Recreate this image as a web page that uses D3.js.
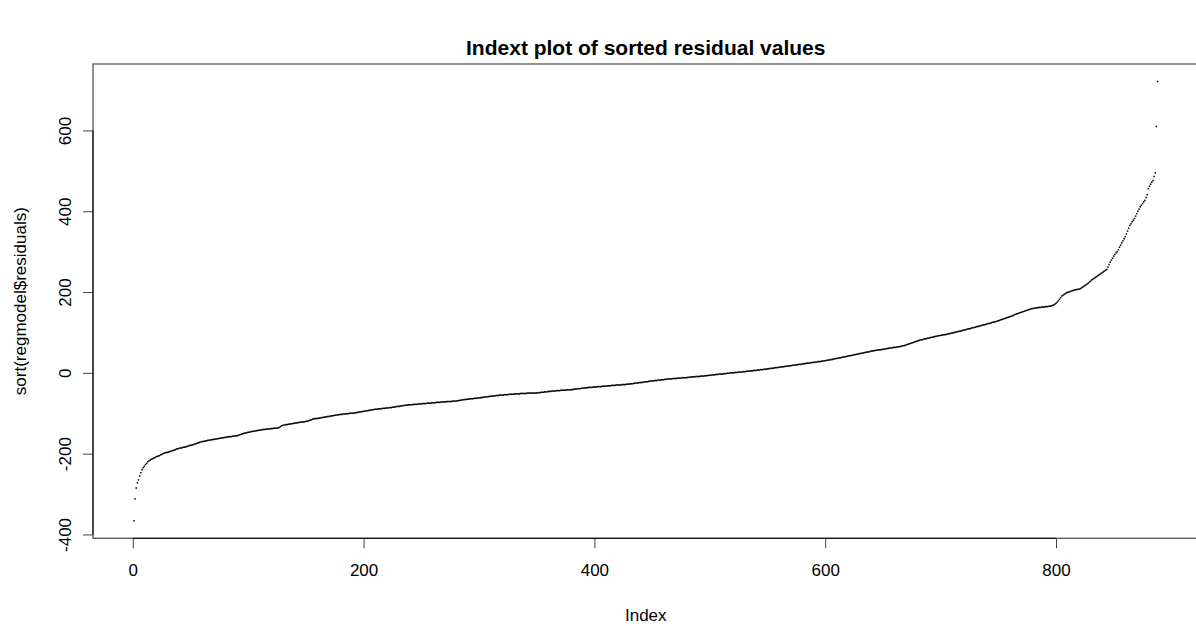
<!DOCTYPE html>
<html>
<head>
<meta charset="utf-8">
<script src="https://cdn.jsdelivr.net/npm/d3@7"></script>
<style>
  html, body { margin: 0; padding: 0; background: #fff; }
  svg { display: block; }
  text { font-family: "Liberation Sans", Arial, Helvetica, sans-serif; fill: #000; }
</style>
</head>
<body>
<svg id="chart" width="1196" height="626"></svg>
<script>
// ---- data (sorted residuals) ----
const residuals = [
-366,-312,-285,-272,-265,-255,-247,-240,-235,-231,
-227,-224,-220,-218,-216,-214,-213,-211,-210,-208,
-207,-206,-205,-203,-202,-200,-199,-198,-197,-197,
-196,-195,-194,-193,-192,-191,-190,-188,-188,-187,
-186,-186,-185,-184,-184,-183,-182,-181,-180,-179,
-179,-178,-177,-176,-175,-174,-173,-172,-171,-170,
-170,-169,-169,-168,-167,-167,-166,-166,-165,-165,
-164,-164,-163,-163,-162,-162,-161,-161,-160,-160,
-159,-159,-158,-158,-158,-157,-157,-156,-156,-156,
-155,-154,-153,-152,-151,-150,-149,-149,-148,-147,
-147,-146,-145,-145,-144,-144,-143,-143,-142,-142,
-141,-141,-140,-140,-140,-139,-139,-139,-138,-138,
-138,-137,-137,-137,-137,-136,-135,-133,-131,-130,
-129,-129,-128,-128,-127,-127,-126,-126,-125,-125,
-124,-124,-123,-123,-122,-122,-122,-121,-121,-120,
-120,-119,-118,-117,-116,-114,-114,-113,-113,-113,
-112,-112,-111,-111,-110,-110,-109,-109,-108,-108,
-107,-107,-106,-106,-105,-105,-104,-104,-103,-103,
-103,-102,-102,-102,-101,-101,-101,-100,-100,-100,
-100,-99,-99,-98,-98,-97,-97,-96,-96,-95,
-95,-94,-94,-93,-93,-92,-92,-91,-91,-90,
-90,-90,-89,-89,-89,-88,-88,-88,-87,-87,
-87,-86,-86,-86,-85,-85,-84,-84,-83,-83,
-83,-82,-82,-81,-81,-80,-80,-80,-79,-79,
-79,-79,-78,-78,-78,-78,-77,-77,-77,-77,
-76,-76,-76,-76,-75,-75,-75,-75,-74,-74,
-74,-74,-73,-73,-73,-73,-72,-72,-72,-72,
-72,-71,-71,-71,-71,-71,-70,-70,-70,-70,
-69,-69,-68,-68,-67,-67,-66,-66,-66,-65,
-65,-65,-64,-64,-64,-63,-63,-63,-62,-62,
-62,-61,-61,-60,-60,-60,-59,-59,-58,-58,
-58,-57,-57,-57,-56,-56,-56,-55,-55,-55,
-55,-54,-54,-54,-54,-53,-53,-53,-53,-53,
-52,-52,-52,-52,-52,-51,-51,-51,-51,-51,
-51,-50,-50,-50,-50,-50,-50,-50,-50,-50,
-49,-49,-49,-48,-48,-48,-47,-47,-47,-46,
-46,-46,-45,-45,-45,-45,-44,-44,-44,-44,
-43,-43,-43,-43,-43,-42,-42,-42,-42,-42,
-41,-41,-40,-40,-40,-39,-39,-39,-38,-38,
-38,-37,-37,-37,-36,-36,-36,-36,-35,-35,
-35,-35,-34,-34,-34,-34,-33,-33,-33,-33,
-32,-32,-32,-32,-31,-31,-31,-31,-30,-30,
-30,-30,-30,-29,-29,-29,-29,-28,-28,-28,
-27,-27,-27,-26,-26,-25,-25,-25,-24,-24,
-24,-23,-23,-22,-22,-22,-21,-21,-20,-20,
-20,-19,-19,-19,-18,-18,-18,-17,-17,-17,
-16,-16,-16,-15,-15,-15,-15,-14,-14,-14,
-14,-13,-13,-13,-13,-12,-12,-12,-12,-12,
-11,-11,-11,-10,-10,-10,-10,-9,-9,-9,
-9,-8,-8,-8,-8,-7,-7,-7,-6,-6,
-6,-5,-5,-5,-4,-4,-4,-3,-3,-3,
-3,-2,-2,-2,-1,-1,-1,0,0,0,
0,1,1,1,2,2,2,2,3,3,
3,4,4,4,5,5,5,6,6,6,
7,7,7,8,8,8,9,9,9,10,
10,11,11,11,12,12,13,13,13,14,
14,15,15,15,16,16,17,17,17,18,
18,19,19,19,20,20,21,21,21,22,
22,23,23,24,24,24,25,25,26,26,
26,27,27,28,28,28,29,29,30,30,
31,31,32,32,33,33,34,35,35,36,
36,37,37,38,39,39,40,40,41,42,
42,43,43,44,45,45,46,46,47,48,
48,49,49,50,51,51,52,52,53,54,
54,55,55,56,56,57,57,57,58,58,
59,59,60,60,61,61,62,62,63,63,
63,64,64,65,65,66,67,67,68,69,
70,71,72,73,74,75,76,77,78,79,
80,81,82,82,83,84,84,85,86,86,
87,88,88,89,90,90,91,92,92,93,
93,94,94,95,95,96,97,97,98,99,
99,100,101,101,102,103,103,104,105,106,
106,107,108,109,109,110,111,112,112,113,
114,115,115,116,117,118,119,119,120,121,
122,122,123,124,125,126,126,127,128,129,
130,131,132,133,134,135,136,137,138,139,
140,141,142,144,145,146,147,148,149,150,
151,152,153,154,155,156,157,158,159,159,
160,160,161,161,162,162,162,163,163,163,
164,164,164,165,165,166,167,168,170,172,
175,178,182,186,190,192,194,196,198,199,
200,201,202,203,204,205,206,206,207,207,
208,210,212,214,216,218,220,222,225,227,
230,232,234,236,238,240,242,244,246,248,
250,252,254,256,262,268,274,279,284,289,
293,297,300,305,311,316,322,327,332,337,
344,351,358,365,369,374,378,382,388,394,
400,405,411,415,419,423,427,434,441,456,
462,467,472,476,486,495,610,721
];
const xTicks = [0, 200, 400, 600, 800];
const yTicks = [-400, -200, 0, 200, 400, 600];
const titleText = "Indext plot of sorted residual values";
const xLabel = "Index";
const yLabel = "sort(regmodel$residuals)";

// ---- layout ----
const svg = d3.select("#chart");
const plot = { left: 93, top: 64, width: 1105.5, height: 474.3 };
const n = residuals.length;
const pts = residuals.map((v, i) => ({ i: i + 1, v }));
const fmt = d => String(d); // plain hyphen-minus like R

// R-style 4% extended ranges
const xr = n - 1;
const x = d3.scaleLinear()
  .domain([1 - 0.04 * xr, n + 0.04 * xr])
  .range([plot.left, plot.left + plot.width]);
const [ymin, ymax] = d3.extent(residuals);
const yr = ymax - ymin;
const y = d3.scaleLinear()
  .domain([ymin - 0.04 * yr, ymax + 0.04 * yr])
  .range([plot.top + plot.height, plot.top]);

// points (pch = ".")
svg.append("g")
  .selectAll("rect")
  .data(pts)
  .join("rect")
  .attr("x", d => x(d.i) - 0.75)
  .attr("y", d => y(d.v) - 0.75)
  .attr("width", 1.5)
  .attr("height", 1.5)
  .attr("fill", "#000");

// box
svg.append("rect")
  .attr("x", plot.left)
  .attr("y", plot.top)
  .attr("width", plot.width)
  .attr("height", plot.height)
  .attr("fill", "none")
  .attr("stroke", "#555")
  .attr("stroke-width", 1.3);

// x axis
const gx = svg.append("g")
  .attr("transform", `translate(0,${plot.top + plot.height})`)
  .call(d3.axisBottom(x).tickValues(xTicks).tickSize(10).tickPadding(16).tickFormat(fmt));
gx.select(".domain").remove();
gx.append("line")
  .attr("x1", x(xTicks[0])).attr("x2", x(xTicks[xTicks.length - 1]))
  .attr("stroke", "#000").attr("stroke-width", 1);
gx.selectAll(".tick line").attr("stroke", "#444");
gx.selectAll("text").attr("font-size", 17).attr("font-family", "Liberation Sans, Arial, sans-serif").attr("fill", "#000");

// y axis
const gy = svg.append("g")
  .attr("transform", `translate(${plot.left},0)`)
  .call(d3.axisLeft(y).tickValues(yTicks).tickSize(10).tickFormat(fmt));
gy.select(".domain").remove();
gy.append("line")
  .attr("y1", y(yTicks[0])).attr("y2", y(yTicks[yTicks.length - 1]))
  .attr("stroke", "#000").attr("stroke-width", 1);
gy.selectAll(".tick line").attr("stroke", "#444");
gy.selectAll(".tick text")
  .attr("transform", "rotate(-90)")
  .attr("x", 0)
  .attr("y", -22)
  .attr("dy", "0")
  .attr("text-anchor", "middle")
  .attr("font-size", 17)
  .attr("font-family", "Liberation Sans, Arial, sans-serif")
  .attr("fill", "#000");

// title and axis labels
const cx = plot.left + plot.width / 2;
svg.append("text")
  .attr("x", cx).attr("y", 55)
  .attr("text-anchor", "middle")
  .attr("font-size", 21)
  .attr("font-weight", "bold")
  .text(titleText);
svg.append("text")
  .attr("x", cx).attr("y", 621)
  .attr("text-anchor", "middle")
  .attr("font-size", 17)
  .text(xLabel);
svg.append("text")
  .attr("transform", `translate(26,${plot.top + plot.height / 2}) rotate(-90)`)
  .attr("text-anchor", "middle")
  .attr("font-size", 17)
  .text(yLabel);
</script>
</body>
</html>
